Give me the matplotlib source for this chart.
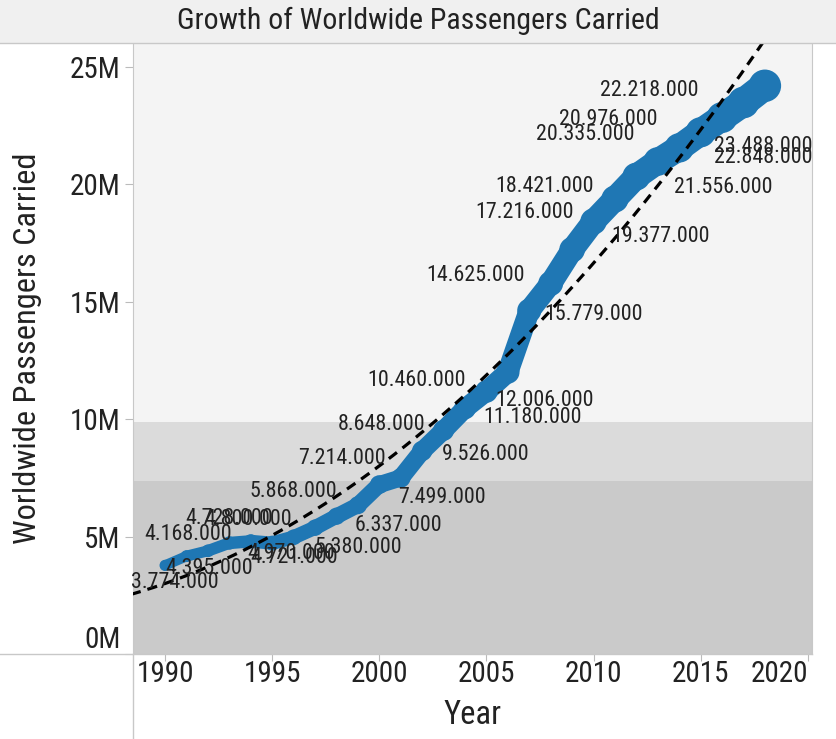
import numpy as np
import matplotlib
matplotlib.use("Agg")
import matplotlib.pyplot as plt
from matplotlib.collections import LineCollection
from matplotlib.lines import Line2D
from matplotlib.patches import Rectangle
from matplotlib import font_manager

# ---------------- data ----------------
years = list(range(1990, 2019))
passengers = [3774000, 4168000, 4395000, 4728000, 4800000, 4721000, 4970000,
              5380000, 5868000, 6337000, 7214000, 7499000, 8648000, 9526000,
              10460000, 11180000, 12006000, 14625000, 15779000, 17216000,
              18421000, 19377000, 20335000, 20976000, 21556000, 22218000,
              22848000, 23488000, 24200000]
labeled = [True] * 28 + [False]
band_edges = [7370000, 9870000]
x_ticks = [1990, 1995, 2000, 2005, 2010, 2015, 2020]
y_ticks = [0, 5e6, 10e6, 15e6, 20e6, 25e6]

# label offsets (pixels, screen coords: +x right, +y down)
lab_dx = [10, 2, 1, 0, -3, 22, -3, 43, -43, 41, -37, 41, -41, 42, -48, 46, 37,
          -54, 43, -48, -49, 46, -51, -50, 44, -51, 41, 20, 0]
lab_dy = [17, -22, 18, -24, -22, 14, 16, 20, -25, 20, -26, 20, -26, 24, -28, 26,
          28, -35, 31, -37, -35, 37, -42, -42, 40, -42, 40, 44, 0]

# ---------------- fonts ----------------
avail = {f.name for f in font_manager.fontManager.ttflist}
narrow = None
for cand in ["Liberation Sans Narrow", "Arial Narrow", "Roboto Condensed"]:
    if cand in avail:
        narrow = cand
        break
fam = [narrow, "Liberation Sans", "DejaVu Sans"] if narrow else ["Liberation Sans", "DejaVu Sans"]
plt.rcParams["font.family"] = fam

W, H = 836, 739
fig = plt.figure(figsize=(W / 100, H / 100), dpi=100)
fig.patch.set_facecolor("white")

L, R, T, B = 133, 812, 43, 654
ax = fig.add_axes([L / W, 1 - B / H, (R - L) / W, (B - T) / H])

# title band
fig.patches.append(Rectangle((0, 1 - T / H), 1, T / H, transform=fig.transFigure,
                             facecolor="#f0f0f0", edgecolor="none", zorder=0))
fig.text(0.5, 1 - 21 / H, "Growth of Worldwide Passengers Carried",
         ha="center", va="center", fontsize=21.5, color="#222222")

ax.set_facecolor("#f4f4f4")
ax.axhspan(0, band_edges[0], color="#cacaca", zorder=0, lw=0)
ax.axhspan(band_edges[0], band_edges[1], color="#dbdbdb", zorder=0, lw=0)

x = np.array(years, dtype=float)
y = np.array(passengers, dtype=float)

# variable-width line
n = len(x)
w_px = 10 + 19 * np.arange(n) / (n - 1)
w_pt = w_px * 0.72
segs = [[(x[i], y[i]), (x[i + 1], y[i + 1])] for i in range(n - 1)]
lc = LineCollection(segs, linewidths=(w_pt[:-1] + w_pt[1:]) / 2, colors="#1f77b4",
                    capstyle="round", joinstyle="round", zorder=3)
ax.add_collection(lc)
ax.scatter(x, y, s=(w_pt * 1.12) ** 2, color="#1f77b4", zorder=3, linewidths=0)

# quadratic trend line
coef = np.polyfit(x, y, 2)
xs = np.linspace(1988.4, 2020.3, 300)
ax.plot(xs, np.polyval(coef, xs), color="black", lw=2.3, ls=(0, (3.2, 2.2)), zorder=4)

# labels
for i in range(n):
    if not labeled[i]:
        continue
    txt = f"{passengers[i]:,}".replace(",", ".")
    ax.annotate(txt, (x[i], y[i]), xytext=(lab_dx[i] * 0.72, -lab_dy[i] * 0.72),
                textcoords="offset points", ha="center", va="center",
                fontsize=15.8, color="#222222", zorder=5)

ax.set_xlim(1988.5, 2020.2)
ax.set_ylim(0, 25e6 * (B - T) / (B - 67))
ax.set_xticks(x_ticks)
ax.set_yticks(y_ticks)
ax.set_yticklabels([f"{v / 1e6:.0f}M" for v in y_ticks])
ax.tick_params(axis="both", colors="#bbbbbb", labelcolor="#222222", labelsize=21)
ax.tick_params(axis="y", length=6, pad=3)
ax.tick_params(axis="x", length=5, pad=-1)
xl = ax.get_xticklabels()
xl[-1].set_ha("right")
yl = ax.get_yticklabels()
yl[0].set_va("bottom")

for s in ax.spines.values():
    s.set_visible(False)
ax.spines["left"].set_visible(True)
ax.spines["left"].set_color("#c8c8c8")
ax.spines["right"].set_visible(True)
ax.spines["right"].set_color("#c8c8c8")

ax.set_ylabel("Worldwide Passengers Carried", fontsize=23.3, color="#222222", labelpad=20)
ax.set_xlabel("Year", fontsize=23.5, color="#222222", labelpad=8)

# frame lines
def fline(x0, y0, x1, y1):
    fig.lines.append(Line2D([x0 / W, x1 / W], [1 - y0 / H, 1 - y1 / H],
                            transform=fig.transFigure, color="#c8c8c8", lw=1))

fline(0, T, W, T)
fline(0, B, R, B)
fline(L, B, L, H)

fig.savefig("out.png", dpi=100)
